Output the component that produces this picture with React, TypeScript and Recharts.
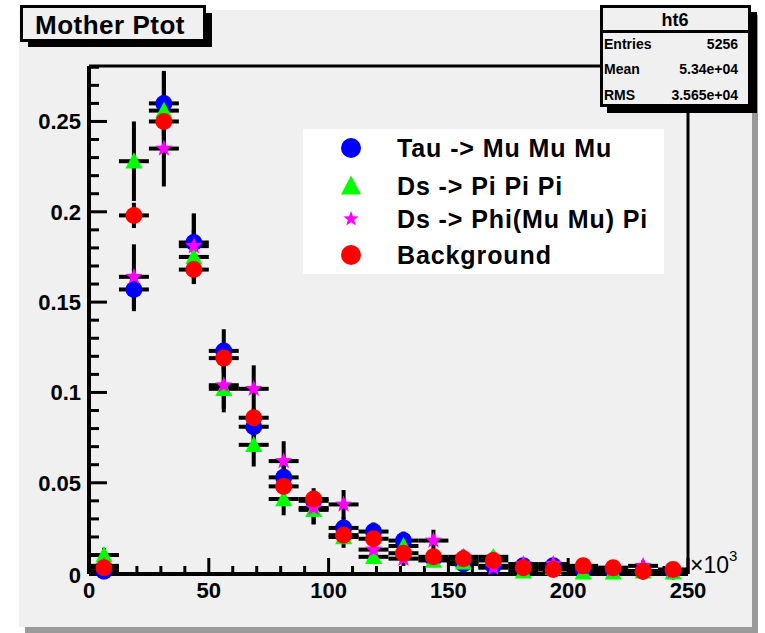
import React from 'react';
import { ScatterChart, Scatter, XAxis, YAxis, ErrorBar, ReferenceLine } from 'recharts';

// ---- data (x in units of 10^3) ----
const binCenters = [6.25, 18.75, 31.25, 43.75, 56.25, 68.75, 81.25, 93.75, 106.25, 118.75, 131.25, 143.75, 156.25, 168.75, 181.25, 193.75, 206.25, 218.75, 231.25, 243.75];
const binHalfWidth = 6.25;

const tauValues = [0.001, 0.157, 0.260, 0.183, 0.123, 0.081, 0.053, 0.040, 0.025, 0.023, 0.018, 0.008, 0.005, 0.004, 0.004, 0.004, 0.002, 0.002, 0.001, 0.001];
const tauErrors = [0.001, 0.012, 0.017, 0.016, 0.012, 0.010, 0.008, 0.007, 0.006, 0.005, 0.005, 0.003, 0.003, 0.002, 0.002, 0.002, 0.002, 0.002, 0.001, 0.001];

const dsPiValues = [0.010, 0.228, 0.256, 0.175, 0.102, 0.071, 0.041, 0.035, 0.020, 0.009, 0.015, 0.007, 0.006, 0.009, 0.001, 0.003, 0.0005, 0.0005, 0.001, 0.0005];
const dsPiErrors = [0.004, 0.022, 0.022, 0.015, 0.013, 0.012, 0.009, 0.008, 0.006, 0.004, 0.005, 0.003, 0.003, 0.003, 0.001, 0.002, 0.001, 0.001, 0.001, 0.001];

const dsPhiValues = [0.004, 0.164, 0.235, 0.181, 0.104, 0.102, 0.062, 0.036, 0.038, 0.013, 0.008, 0.018, 0.009, 0.003, 0.005, 0.005, 0.003, 0.002, 0.004, 0.001];
const dsPhiErrors = [0.003, 0.018, 0.021, 0.018, 0.013, 0.013, 0.011, 0.009, 0.008, 0.005, 0.004, 0.006, 0.004, 0.002, 0.003, 0.003, 0.002, 0.002, 0.003, 0.001];

const bkgValues = [0.003, 0.198, 0.250, 0.168, 0.119, 0.086, 0.048, 0.041, 0.021, 0.019, 0.011, 0.009, 0.008, 0.007, 0.003, 0.002, 0.004, 0.003, 0.001, 0.002];
const bkgErrors = [0.001, 0.007, 0.008, 0.008, 0.006, 0.005, 0.004, 0.003, 0.003, 0.003, 0.002, 0.002, 0.002, 0.002, 0.001, 0.001, 0.001, 0.001, 0.001, 0.001];

const seriesNames = ['Tau -> Mu Mu Mu', 'Ds -> Pi Pi Pi', 'Ds -> Phi(Mu Mu) Pi', 'Background'];
const seriesColors = ['#0000ff', '#00ff00', '#ff00ff', '#ff0000'];
const seriesMarkers = ['circle', 'triangle', 'star', 'circle'];

const xTicks = [0, 10, 20, 30, 40, 50, 60, 70, 80, 90, 100, 110, 120, 130, 140, 150, 160, 170, 180, 190, 200, 210, 220, 230, 240, 250];
const xMajorTicks = [0, 50, 100, 150, 200, 250];
const xTickLabels = ['0', '50', '100', '150', '200', '250'];
const yTicks = [0, 0.01, 0.02, 0.03, 0.04, 0.05, 0.06, 0.07, 0.08, 0.09, 0.1, 0.11, 0.12, 0.13, 0.14, 0.15, 0.16, 0.17, 0.18, 0.19, 0.2, 0.21, 0.22, 0.23, 0.24, 0.25, 0.26, 0.27, 0.28];
const yMajorTicks = [0, 0.05, 0.1, 0.15, 0.2, 0.25];
const yTickLabels = ['0', '0.05', '0.1', '0.15', '0.2', '0.25'];

const xMax = 250;
const yMax = 0.2807;

const titleText = 'Mother Ptot';
const statsName = 'ht6';
const statsLabels = ['Entries', 'Mean', 'RMS'];
const statsValues = ['5256', '5.34e+04', '3.565e+04'];

const build = (vals: number[], errs: number[]) =>
  binCenters.map((x, i) => ({ x, y: vals[i], ex: binHalfWidth, ey: errs[i] }));

const seriesData = [
  build(tauValues, tauErrors),
  build(dsPiValues, dsPiErrors),
  build(dsPhiValues, dsPhiErrors),
  build(bkgValues, bkgErrors),
];

const FONT = '"Liberation Sans", Arial, Helvetica, sans-serif';

const majorIndex = (majors: number[], v: number) => majors.findIndex((m) => Math.abs(m - v) < 1e-9);

function Marker({ kind, cx, cy, color, r }: { kind: string; cx: number; cy: number; color: string; r: number }) {
  if (cx == null || cy == null || isNaN(cx) || isNaN(cy)) return <g />;
  if (kind === 'circle') return <circle cx={cx} cy={cy} r={r} fill={color} />;
  if (kind === 'triangle') {
    const pts = `${cx},${cy - r * 1.05} ${cx - r},${cy + r * 0.85} ${cx + r},${cy + r * 0.85}`;
    return <polygon points={pts} fill={color} />;
  }
  const pts: string[] = [];
  for (let k = 0; k < 10; k++) {
    const a = -Math.PI / 2 + (k * Math.PI) / 5;
    const rr = k % 2 === 0 ? r : r * 0.42;
    pts.push(`${cx + rr * Math.cos(a)},${cy + rr * Math.sin(a)}`);
  }
  return <polygon points={pts.join(' ')} fill={color} />;
}

const XTick = (props: any) => {
  const x = Number(props.x);
  const y = Number(props.y);
  const idx = majorIndex(xMajorTicks, props.payload.value);
  if (idx < 0) return <g />;
  return (
    <text x={x} y={y + 24} textAnchor="middle" fontFamily={FONT} fontWeight="bold" fontSize={22} fill="#000">
      {xTickLabels[idx]}
    </text>
  );
};

const YTick = (props: any) => {
  const x = Number(props.x);
  const y = Number(props.y);
  const idx = majorIndex(yMajorTicks, props.payload.value);
  if (idx < 0) return <g />;
  return (
    <text x={x - 8} y={idx === 0 ? y + 10 : y + 8} textAnchor="end" fontFamily={FONT} fontWeight="bold" fontSize={22} fill="#000">
      {yTickLabels[idx]}
    </text>
  );
};

// Inward ROOT-style tick marks: a reference line at each tick value, drawn only near the axis
const xTickShape = (len: number) => (p: any) => {
  const x = Number(p.x1);
  const bottom = Math.max(Number(p.y1), Number(p.y2));
  if (isNaN(x) || isNaN(bottom)) return <g />;
  return <line x1={x} x2={x} y1={bottom} y2={bottom - len} stroke="#000" strokeWidth={3} />;
};
const yTickShape = (len: number) => (p: any) => {
  const y = Number(p.y1);
  const left = Math.min(Number(p.x1), Number(p.x2));
  if (isNaN(y) || isNaN(left)) return <g />;
  return <line x1={left} x2={left + len} y1={y} y2={y} stroke="#000" strokeWidth={3} />;
};

export default function App() {
  const legendRows = [148, 186, 219, 255];
  return (
    <div style={{ position: 'absolute', left: 0, top: 0, width: 765, height: 633, background: '#ffffff', overflow: 'hidden' }}>
      {/* canvas */}
      <div style={{ position: 'absolute', left: 25, top: 15, width: 733, height: 618, background: '#9a9a9a' }} />
      <div style={{ position: 'absolute', left: 19, top: 10, width: 733, height: 617, background: '#f0f0f0' }} />
      <div style={{ position: 'absolute', left: 0, top: 0 }}>
        <ScatterChart width={765} height={633} margin={{ top: 66, right: 77, bottom: 29, left: 29 }}>
          <XAxis
            type="number"
            dataKey="x"
            domain={[0, xMax]}
            ticks={xTicks}
            interval={0}
            tickSize={0}
            tickMargin={0}
            tick={<XTick />}
            tickLine={false}
            axisLine={{ stroke: '#000', strokeWidth: 4 }}
            height={30}
          />
          <YAxis
            type="number"
            dataKey="y"
            domain={[0, yMax]}
            ticks={yTicks}
            interval={0}
            tickSize={0}
            tickMargin={0}
            tick={<YTick />}
            tickLine={false}
            axisLine={{ stroke: '#000', strokeWidth: 4 }}
            width={60}
          />
          <ReferenceLine y={yMax} stroke="#000" strokeWidth={3} />
          <ReferenceLine x={xMax} stroke="#000" strokeWidth={3} />
          {xTicks.map((v) => (
            <ReferenceLine key={'xt' + v} x={v} stroke="#000" strokeWidth={3} shape={xTickShape(majorIndex(xMajorTicks, v) >= 0 ? 16 : 8)} />
          ))}
          {yTicks.map((v) => (
            <ReferenceLine key={'yt' + v} y={v} stroke="#000" strokeWidth={3} shape={yTickShape(majorIndex(yMajorTicks, v) >= 0 ? 18 : 10)} />
          ))}
          {seriesData.map((d, i) => (
            <Scatter key={'err' + i} data={d} isAnimationActive={false} shape={() => <g />}>
              <ErrorBar dataKey="ey" direction="y" width={0} stroke="#000" strokeWidth={4} isAnimationActive={false} />
              <ErrorBar dataKey="ex" direction="x" width={0} stroke="#000" strokeWidth={4} isAnimationActive={false} />
            </Scatter>
          ))}
          {seriesData.map((d, i) => (
            <Scatter
              key={'pts' + i}
              name={seriesNames[i]}
              data={d}
              isAnimationActive={false}
              shape={(p: any) => <Marker kind={seriesMarkers[i]} cx={p.cx} cy={p.cy} color={seriesColors[i]} r={seriesMarkers[i] === 'star' ? 9 : 8.5} />}
            />
          ))}
        </ScatterChart>
      </div>
      <svg width={765} height={633} style={{ position: 'absolute', left: 0, top: 0, pointerEvents: 'none' }}>
        {/* title box */}
        <rect x={28} y={13} width={184} height={34} fill="#000" />
        <rect x={21.5} y={6.5} width={183} height={34} fill="#f0f0f0" stroke="#000" strokeWidth={3} />
        <text x={35} y={34} fontFamily={FONT} fontWeight="bold" fontSize={26} letterSpacing={0.5} fill="#000">{titleText}</text>
        {/* stats box */}
        <rect x={607} y={12} width={150} height={101} fill="#000" />
        <rect x={601.5} y={6.5} width={148} height={99} fill="#f0f0f0" stroke="#000" strokeWidth={3} />
        <line x1={601} x2={750} y1={31.5} y2={31.5} stroke="#000" strokeWidth={3} />
        <text x={675} y={26} textAnchor="middle" fontFamily={FONT} fontWeight="bold" fontSize={18} fill="#000">{statsName}</text>
        {statsLabels.map((l, i) => (
          <g key={l}>
            <text x={604} y={[49, 74, 100][i]} fontFamily={FONT} fontWeight="bold" fontSize={14} fill="#000">{l}</text>
            <text x={738} y={[49, 74, 100][i]} textAnchor="end" fontFamily={FONT} fontWeight="bold" fontSize={14} fill="#000">{statsValues[i]}</text>
          </g>
        ))}
        {/* legend */}
        <rect x={303} y={129} width={361} height={145} fill="#ffffff" />
        {seriesNames.map((n, i) => (
          <g key={n}>
            <Marker kind={seriesMarkers[i]} cx={351} cy={legendRows[i]} color={seriesColors[i]} r={seriesMarkers[i] === 'star' ? 8 : 10} />
            <text x={397} y={legendRows[i] + 9} fontFamily={FONT} fontWeight="bold" fontSize={25} letterSpacing={0.9} fill="#000">{n}</text>
          </g>
        ))}
        {/* x exponent */}
        <text x={690} y={573} fontFamily={FONT} fontSize={23} fill="#000">
          ×10<tspan fontSize={15} dy={-12}>3</tspan>
        </text>
      </svg>
    </div>
  );
}
